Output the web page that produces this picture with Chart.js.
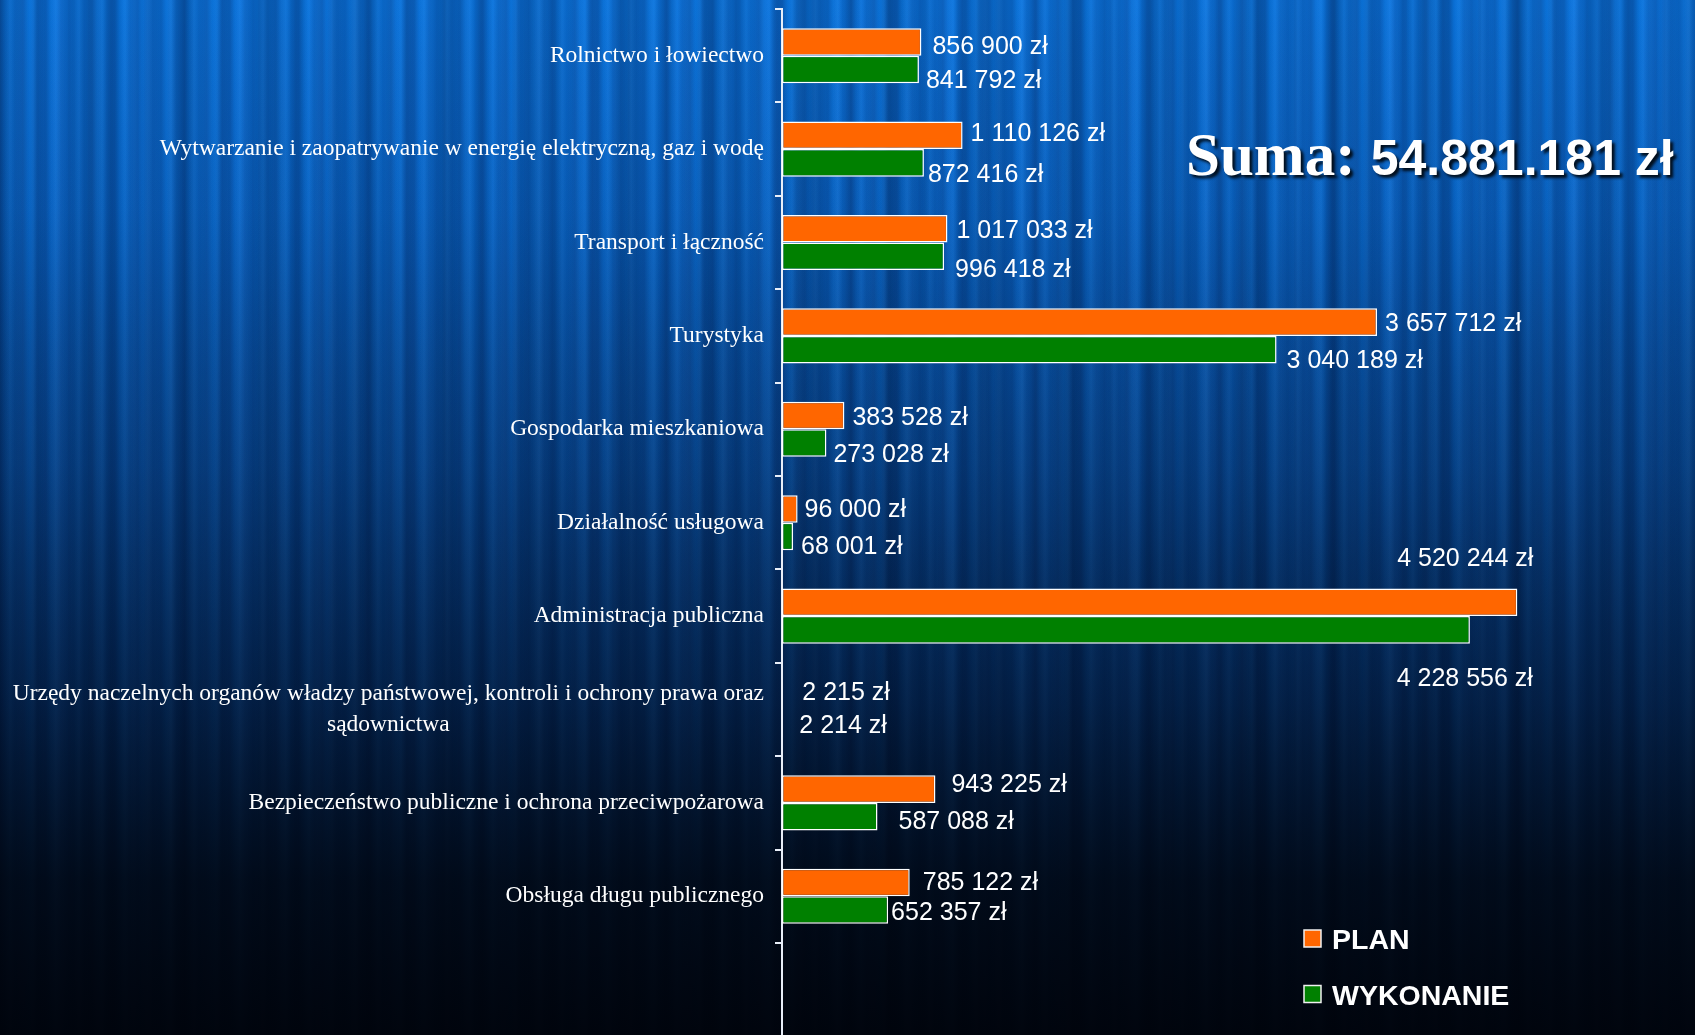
<!DOCTYPE html>
<html>
<head>
<meta charset="utf-8">
<script src="https://cdn.jsdelivr.net/npm/chart.js@4.4.1/dist/chart.umd.min.js"></script>
<style>
  html, body { margin: 0; padding: 0; }
  body {
    width: 1695px; height: 1035px; overflow: hidden;
    background:
      linear-gradient(to bottom, rgba(0,4,16,0) 0%, rgba(0,4,16,0.06) 20%, rgba(0,4,16,0.28) 45%, rgba(0,4,16,0.58) 68%, rgba(0,3,10,0.85) 85%, rgba(0,2,8,0.95) 100%),
      repeating-linear-gradient(90deg, rgba(0,0,40,0.18) 0px, rgba(0,0,40,0.04) 5px, rgba(120,180,255,0.06) 10px, rgba(0,0,40,0.12) 15px, rgba(0,0,40,0.18) 23px),
      repeating-linear-gradient(90deg, rgba(0,0,30,0.14) 0px, rgba(0,0,0,0) 12px, rgba(80,160,255,0.07) 23px, rgba(0,0,0,0) 30px, rgba(0,0,30,0.14) 37px),
      repeating-linear-gradient(90deg, rgba(0,0,20,0.12) 0px, rgba(0,0,0,0) 30px, rgba(60,140,255,0.06) 61px, rgba(0,0,0,0) 77px, rgba(0,0,20,0.12) 89px),
      linear-gradient(to bottom, #0a74dc 0%, #0868cc 25%, #0759b4 50%, #054894 75%, #043a78 100%);
  }
  #wrap { position: absolute; left: 0; top: 0; width: 1695px; height: 1035px; }
</style>
</head>
<body>
<div id="wrap"><canvas id="c" width="1695" height="1035"></canvas></div>
<script>
// ---- data ----
const categories = [
  "Rolnictwo i łowiectwo",
  "Wytwarzanie i zaopatrywanie w energię elektryczną, gaz i wodę",
  "Transport i łączność",
  "Turystyka",
  "Gospodarka mieszkaniowa",
  "Działalność usługowa",
  "Administracja publiczna",
  ["Urzędy naczelnych organów władzy państwowej, kontroli i ochrony prawa oraz", "sądownictwa"],
  "Bezpieczeństwo publiczne i ochrona przeciwpożarowa",
  "Obsługa długu publicznego"
];
const planValues = [856900, 1110126, 1017033, 3657712, 383528, 96000, 4520244, 2215, 943225, 785122];
const wykonanieValues = [841792, 872416, 996418, 3040189, 273028, 68001, 4228556, 2214, 587088, 652357];
const seriesNames = ["PLAN", "WYKONANIE"];
const totalText = ["Suma:", "54.881.181 zł"];

// ---- styles (label offsets relative to bar end / bar centre) ----
const planLabelOffsets = [
  {dx: 11, dy: 3}, {dx: 8, dy: -3}, {dx: 9, dy: 0}, {dx: 8, dy: 0}, {dx: 8, dy: 0},
  {dx: 7, dy: -1}, {dx: 16, dy: -45, align: 'right'}, {dx: 20, dy: -5}, {dx: 16, dy: -6}, {dx: 13, dy: -2}
];
const wykLabelOffsets = [
  {dx: 7, dy: 10}, {dx: 4, dy: 10}, {dx: 11, dy: 12}, {dx: 10, dy: 9}, {dx: 7, dy: 10},
  {dx: 8, dy: 9}, {dx: 63, dy: 47, align: 'right'}, {dx: 17, dy: 1}, {dx: 21, dy: 3}, {dx: 3, dy: 1}
];
const labelOffsets = [planLabelOffsets, wykLabelOffsets];

function fmt(v) {
  return String(v).replace(/\B(?=(\d{3})+(?!\d))/g, ' ') + ' zł';
}

const overlayPlugin = {
  id: 'overlay',
  afterDraw(chart) {
    const ctx = chart.ctx;
    const area = chart.chartArea;
    const yScale = chart.scales.y;
    ctx.save();

    // extend the axis line to the bottom of the picture
    ctx.strokeStyle = '#e8eef8';
    ctx.lineWidth = 2;
    ctx.beginPath();
    ctx.moveTo(area.left, area.bottom);
    ctx.lineTo(area.left, chart.height);
    ctx.stroke();

    // category labels (serif, right aligned block, lines centred inside block)
    ctx.fillStyle = '#ffffff';
    ctx.font = "23.5px 'Liberation Serif', 'Times New Roman', serif";
    ctx.textBaseline = 'middle';
    const rightX = area.left - 18;
    const lineH = 31;
    chart.data.labels.forEach((lab, i) => {
      const lines = Array.isArray(lab) ? lab : [lab];
      const yc = yScale.getPixelForValue(i);
      const widths = lines.map(l => ctx.measureText(l).width);
      const maxW = Math.max(...widths);
      const cx = rightX - maxW / 2;
      ctx.textAlign = 'center';
      lines.forEach((l, k) => {
        const y = yc + (k - (lines.length - 1) / 2) * lineH;
        ctx.fillText(l, cx, y);
      });
    });

    // value labels
    ctx.font = "25px 'Liberation Sans', Arial, sans-serif";
    ctx.textBaseline = 'alphabetic';
    chart.data.datasets.forEach((ds, di) => {
      const meta = chart.getDatasetMeta(di);
      meta.data.forEach((bar, i) => {
        const off = labelOffsets[di][i];
        ctx.textAlign = off.align === 'right' ? 'right' : 'left';
        ctx.fillText(fmt(ds.data[i]), bar.x + off.dx, bar.y + off.dy + 9);
      });
    });

    // legend
    const legX = 1304, legY = [939, 994.5];
    ctx.font = "bold 28.5px 'Liberation Sans', Arial, sans-serif";
    ctx.textAlign = 'left';
    ctx.textBaseline = 'alphabetic';
    chart.data.datasets.forEach((ds, di) => {
      const y = legY[di];
      ctx.fillStyle = ds.backgroundColor;
      ctx.fillRect(legX, y - 9, 17, 17);
      ctx.strokeStyle = '#f0f0f0';
      ctx.lineWidth = 1.5;
      ctx.strokeRect(legX, y - 9, 17, 17);
      ctx.fillStyle = '#ffffff';
      ctx.fillText(ds.label, 1332, y + 10);
    });

    // total
    ctx.shadowColor = 'rgba(0,0,0,0.85)';
    ctx.shadowOffsetX = 3;
    ctx.shadowOffsetY = 3;
    ctx.shadowBlur = 3;
    ctx.fillStyle = '#ffffff';
    ctx.textAlign = 'left';
    ctx.font = "bold 61px 'Liberation Serif', 'Times New Roman', serif";
    const baseY = 175;
    let x = 1186;
    ctx.fillText(totalText[0], x, baseY);
    x += ctx.measureText(totalText[0] + ' ').width;
    ctx.font = "bold 50px 'Liberation Sans', Arial, sans-serif";
    ctx.fillText(totalText[1], x, baseY);

    ctx.restore();
  }
};

new Chart(document.getElementById('c'), {
  type: 'bar',
  data: {
    labels: categories,
    datasets: [
      { label: seriesNames[0], data: planValues, backgroundColor: '#ff6600', borderColor: '#ffffff', borderWidth: 1.5, borderSkipped: false },
      { label: seriesNames[1], data: wykonanieValues, backgroundColor: '#008000', borderColor: '#ffffff', borderWidth: 1.5, borderSkipped: false }
    ]
  },
  options: {
    indexAxis: 'y',
    responsive: false,
    animation: false,
    devicePixelRatio: 1,
    categoryPercentage: 0.59,
    barPercentage: 1.0,
    layout: { padding: { top: 9, bottom: 92, left: 0, right: 2 } },
    plugins: { legend: { display: false }, tooltip: { enabled: false } },
    scales: {
      x: { display: false, min: 0, max: 5600000 },
      y: {
        offset: true,
        grid: { display: true, drawOnChartArea: false, drawTicks: true, tickLength: 7, color: '#e8eef8', lineWidth: 2, offset: true },
        border: { display: true, color: '#e8eef8', width: 2 },
        ticks: { display: false },
        afterFit(scale) { scale.width = 782; }
      }
    }
  },
  plugins: [overlayPlugin]
});
</script>
</body>
</html>
